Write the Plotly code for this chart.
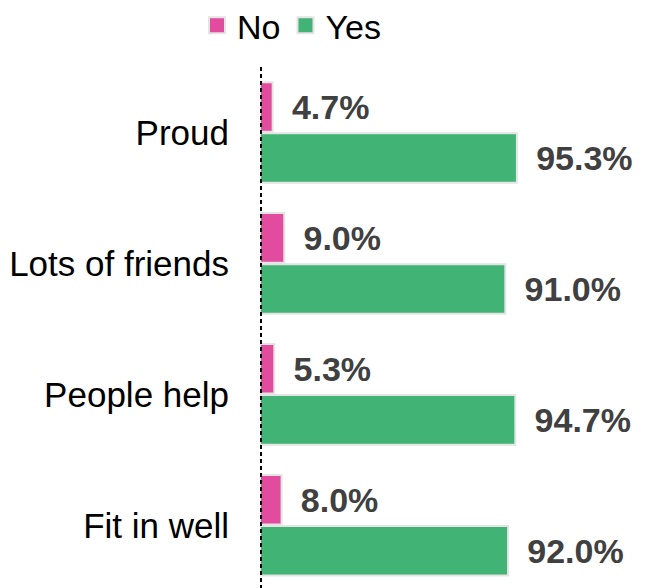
import plotly.graph_objects as go

categories = ["Proud", "Lots of friends", "People help", "Fit in well"]
no_values = [4.7, 9.0, 5.3, 8.0]
yes_values = [95.3, 91.0, 94.7, 92.0]

pink = "#E24C9E"
green = "#41B375"
outline = "#e4e4e4"
label_font = dict(family="Liberation Sans, Arial", size=34, color="#404040", weight="bold")

fig = go.Figure()

for name, vals, col in [("No", no_values, pink), ("Yes", yes_values, green)]:
    fig.add_trace(go.Bar(
        name=name,
        y=categories,
        x=vals,
        orientation="h",
        marker=dict(color=col, line=dict(color=outline, width=2)),
        texttemplate=" \u2009%{x:.1f}%",
        textposition="outside",
        textfont=label_font,
        cliponaxis=False,
        showlegend=False,
        legendgroup=name,
    ))

# legend entries with bigger square swatches
for name, col in [("No", pink), ("Yes", green)]:
    fig.add_trace(go.Scatter(
        name=name, x=[None], y=[None], mode="markers", legendgroup=name,
        marker=dict(symbol="square", size=16, color=col, line=dict(color=outline, width=2)),
    ))

# dotted baseline at zero
fig.add_shape(type="line", xref="x", yref="paper", x0=0, x1=0, y0=0, y1=1.0,
              line=dict(color="black", width=4, dash="4px,3px"))

fig.update_layout(
    width=651,
    height=588,
    barmode="group",
    bargap=0.22,
    bargroupgap=0.03,
    plot_bgcolor="white",
    paper_bgcolor="white",
    font=dict(family="Liberation Sans, Arial", color="black"),
    margin=dict(l=252, r=0, t=59, b=0),
    xaxis=dict(range=[0, 148], showticklabels=False, showgrid=False, zeroline=False),
    yaxis=dict(range=[3.54, -0.5], showgrid=False, ticks="", ticklabelstandoff=30,
               tickfont=dict(size=35, color="black"), automargin=False),
    legend=dict(
        orientation="h",
        xref="container", yref="container",
        x=0.4355, xanchor="center",
        y=0.97, yanchor="middle",
        font=dict(size=34, color="black"),
        itemsizing="trace",
        itemwidth=30,
    ),
    showlegend=True,
)

fig.write_html("out.html")
